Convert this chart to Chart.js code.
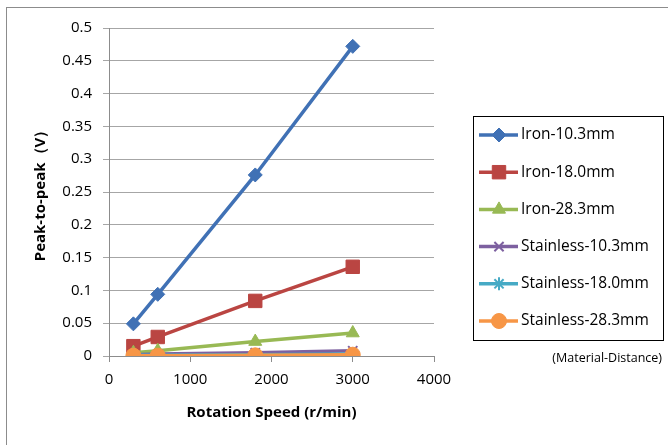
<!DOCTYPE html>
<html lang="en">
<head>
<meta charset="UTF-8">
<style>
    html, body { margin: 0; padding: 0; background: #fff; }
    #wrap { width: 668px; height: 445px; }
</style>
</head>
<body>
<div id="wrap"><canvas id="chart" width="668" height="445"></canvas></div>
<script src="https://cdn.jsdelivr.net/npm/chart.js"></script>
<script>
    // rotation speed (r/min)
    const speeds = [300, 600, 1800, 3000];

    const labels = ['Iron-10.3mm', 'Iron-18.0mm', 'Iron-28.3mm',
                    'Stainless-10.3mm', 'Stainless-18.0mm', 'Stainless-28.3mm'];

    // peak-to-peak voltage (V)
    const iron103 = [0.049, 0.094, 0.276, 0.472];
    const iron180 = [0.015, 0.029, 0.084, 0.136];
    const iron283 = [0.005, 0.008, 0.022, 0.035];
    const stain103 = [0.002, 0.003, 0.005, 0.008];
    const stain180 = [0.001, 0.001, 0.002, 0.003];
    const stain283 = [0.0005, 0.0005, 0.001, 0.002];

    const yTicks = [0, 0.05, 0.1, 0.15, 0.2, 0.25, 0.3, 0.35, 0.4, 0.45, 0.5];
    const xTicks = [0, 1000, 2000, 3000, 4000];

    const series = [iron103, iron180, iron283, stain103, stain180, stain283];
    const colors = ['#4071B5', '#BA4542', '#98B954', '#7D60A0', '#46AAC5', '#F79646'];
    const markers = ['rectRot', 'rect', 'triangle', 'crossRot', 'star', 'circle'];
    const radii = [7, 9.5, 7.5, 6.5, 6.5, 7.5];

    const FONT = '"Open Sans", "Liberation Sans", sans-serif';

    const datasets = series.map((vals, i) => ({
        label: labels[i],
        data: vals.map((v, j) => ({ x: speeds[j], y: v })),
        borderColor: colors[i],
        backgroundColor: colors[i],
        pointBorderColor: colors[i],
        pointBackgroundColor: colors[i],
        pointStyle: markers[i],
        pointRadius: radii[i],
        pointBorderWidth: (markers[i] === 'crossRot' || markers[i] === 'star') ? 2 : 1,
        borderWidth: 3.5,
        tension: 0,
        order: series.length - i
    }));

    // outer frame + legend box drawn by hand, Excel style
    const excelBits = {
        id: 'excelBits',
        beforeDraw(chart) {
            const c = chart.ctx;
            c.save();
            c.fillStyle = '#fff';
            c.fillRect(0, 0, chart.width, chart.height);
            c.strokeStyle = '#8c8c8c';
            c.lineWidth = 1;
            c.strokeRect(6.5, 7.5, chart.width + 10, chart.height + 10);
            c.restore();
        },
        afterDraw(chart) {
            const c = chart.ctx;
            c.save();
            c.strokeStyle = '#000';
            c.lineWidth = 1;
            c.strokeRect(473.5, 116.5, 190, 224);
            c.font = '15.5px ' + FONT;
            c.textBaseline = 'middle';
            chart.data.datasets.forEach((ds, i) => {
                const y = 135 + i * 37.2;
                c.strokeStyle = ds.borderColor;
                c.lineWidth = 3.5;
                c.beginPath();
                c.moveTo(479, y);
                c.lineTo(518, y);
                c.stroke();
                c.fillStyle = ds.pointBackgroundColor;
                c.strokeStyle = ds.pointBorderColor;
                c.lineWidth = ds.pointBorderWidth;
                Chart.helpers.drawPoint(c, {
                    pointStyle: ds.pointStyle, radius: ds.pointRadius,
                    rotation: 0, borderWidth: ds.pointBorderWidth
                }, 499, y);
                c.fillStyle = '#000';
                c.textAlign = 'left';
                c.fillText(ds.label, 521, y);
            });
            c.font = '12.5px ' + FONT;
            c.textAlign = 'right';
            c.fillStyle = '#000';
            c.fillText('(Material-Distance)', 662, 358);
            c.restore();
        }
    };

    new Chart(document.getElementById('chart'), {
        type: 'line',
        data: { datasets },
        options: {
            responsive: false,
            animation: false,
            layout: { padding: { top: 28, right: 234, bottom: 0, left: 0 } },
            plugins: { legend: { display: false }, tooltip: { enabled: false } },
            scales: {
                x: {
                    type: 'linear',
                    min: 0, max: 4000,
                    afterFit(s) { s.height = 89; },
                    afterBuildTicks(s) { s.ticks = xTicks.map(v => ({ value: v })); },
                    grid: { drawOnChartArea: false, drawTicks: true, tickLength: 6, color: '#8c8c8c' },
                    border: { color: '#8c8c8c', width: 1 },
                    ticks: { color: '#000', font: { family: FONT, size: 15 }, padding: 9, maxRotation: 0,
                             callback: v => String(v) },
                    title: {
                        display: true, text: 'Rotation Speed (r/min)', color: '#000',
                        font: { family: FONT, size: 15, weight: 'bold' },
                        padding: { top: 0, bottom: 23 }
                    }
                },
                y: {
                    min: 0, max: 0.5,
                    afterFit(s) { s.width = 109; },
                    afterBuildTicks(s) { s.ticks = yTicks.map(v => ({ value: v })); },
                    grid: { color: '#a6a6a6', tickLength: 6 },
                    border: { color: '#8c8c8c', width: 1 },
                    ticks: { color: '#000', font: { family: FONT, size: 15 }, padding: 11,
                             callback: v => String(+v.toFixed(2)) },
                    title: {
                        display: true, text: 'Peak-to-peak（V）', color: '#000',
                        font: { family: FONT, size: 15, weight: 'bold' },
                        padding: { top: 32, bottom: 0 }
                    }
                }
            }
        },
        plugins: [excelBits]
    });
</script>
</body>
</html>
